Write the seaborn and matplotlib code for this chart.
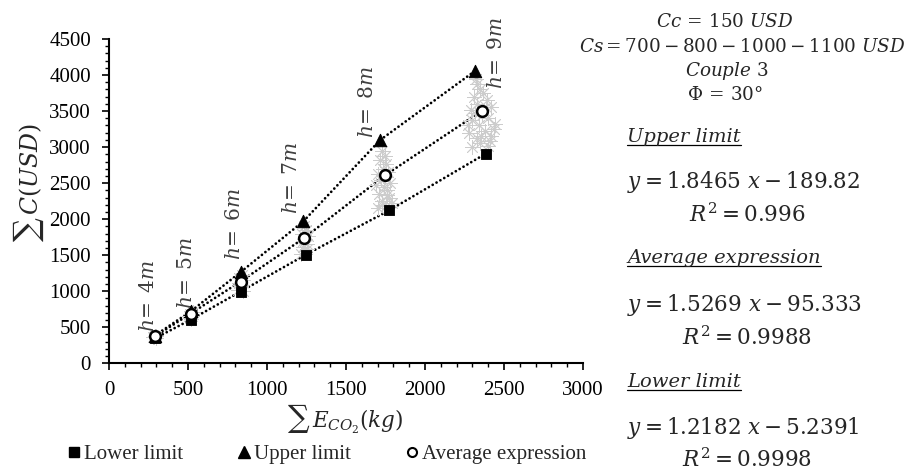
import numpy as np
import pandas as pd
import matplotlib
matplotlib.use("Agg")
import matplotlib.pyplot as plt
from matplotlib.lines import Line2D
import seaborn as sns

# ---------------- data ----------------
heights = ["4", "5", "6", "7", "8", "9"]
lower_x = [290, 517, 833, 1245, 1774, 2386]
lower_y = [345, 605, 996, 1506, 2123, 2911]
upper_x = [290, 517, 833, 1230, 1715, 2316]
upper_y = [385, 720, 1265, 1970, 3096, 4056]
avg_x = [290, 517, 833, 1235, 1747, 2358]
avg_y = [372, 690, 1135, 1739, 2609, 3500]

cloud_x = [285, 295, 290, 300, 280,
           510, 525, 515, 530, 505, 520,
           815, 835, 825, 845, 820, 840, 830, 850,
           1215, 1240, 1225, 1255, 1230, 1260, 1220, 1245, 1235, 1250,
           1700, 1750, 1730, 1770, 1710, 1760, 1740, 1780, 1720, 1765, 1735, 1755, 1715, 1745, 1730, 1790, 1690,
           1725, 1760, 1745, 1705,
           2300, 2350, 2400, 2330, 2420, 2280, 2380, 2340, 2440, 2300, 2400, 2360, 2290, 2420, 2330, 2390,
           2310, 2370, 2350, 2320, 2330, 2410, 2270, 2355, 2385, 2315, 2435]
cloud_y = [360, 375, 385, 355, 370,
           630, 660, 690, 705, 650, 620,
           1020, 1060, 1110, 1150, 1190, 1230, 1080, 1010,
           1520, 1560, 1610, 1650, 1700, 1760, 1800, 1850, 1900, 1580,
           2150, 2180, 2250, 2300, 2350, 2400, 2450, 2500, 2550, 2650, 2700, 2760, 2820, 2880, 2950, 2220, 2480,
           2200, 2330, 2580, 2620,
           3000, 3050, 3020, 3120, 3150, 3200, 3230, 3300, 3320, 3380, 3400, 3450, 3520, 3550, 3600, 3650,
           3700, 3750, 3800, 3950, 3880, 3080, 3300, 3150, 3560, 3470, 3250]

x_ticks = [0, 500, 1000, 1500, 2000, 2500, 3000]
y_ticks = [0, 500, 1000, 1500, 2000, 2500, 3000, 3500, 4000, 4500]

# ---------------- style ----------------
sns.set_theme(style="white")
plt.rcParams["font.family"] = ["Liberation Serif", "DejaVu Serif"]
plt.rcParams["mathtext.fontset"] = "dejavuserif"

W, H = 908, 472
fig = plt.figure(figsize=(W / 100, H / 100), dpi=100)
ax_l, ax_r, ax_b, ax_t = 109, 583, 363.3, 39
ax = fig.add_axes([ax_l / W, 1 - ax_b / H, (ax_r - ax_l) / W, (ax_b - ax_t) / H])

def px(x, y):
    return x / W, 1 - y / H

lower_df = pd.DataFrame({"x": lower_x, "y": lower_y})
upper_df = pd.DataFrame({"x": upper_x, "y": upper_y})
avg_df = pd.DataFrame({"x": avg_x, "y": avg_y})
cloud_df = pd.DataFrame({"x": cloud_x, "y": cloud_y})

dot = (0, (0.01, 1.6))
for df in (lower_df, upper_df, avg_df):
    sns.lineplot(data=df, x="x", y="y", sort=False, ax=ax, color="black",
                 linewidth=2.0, linestyle=dot, zorder=2)
for ln in ax.lines:
    ln.set_dash_capstyle("round")

sns.scatterplot(data=cloud_df, x="x", y="y", ax=ax, marker=(8, 2, 0), s=100,
                color="#cccccc", linewidth=0.6, edgecolor="#cccccc", zorder=3, legend=False)

sns.scatterplot(data=lower_df, x="x", y="y", ax=ax, marker="s", s=60,
                color="black", edgecolor="black", zorder=5, legend=False)
sns.scatterplot(data=upper_df, x="x", y="y", ax=ax, marker="^", s=80,
                color="black", edgecolor="black", zorder=5, legend=False)
sns.scatterplot(data=avg_df, x="x", y="y", ax=ax, marker="o", s=60,
                facecolor="white", edgecolor="black", linewidth=1.8, zorder=6, legend=False)

# height labels
label_offsets = [(-5, 4), (-3, 2), (-5, 12), (-11, 7), (-11, 2), (23, -18)]
for h, xu, yu, (dx, dy) in zip(heights, upper_x, upper_y, label_offsets):
    ax.annotate(r"$h\!=\;" + h + r"m$", xy=(xu, yu), xytext=(dx, dy),
                textcoords="offset pixels", rotation=90, ha="center", va="bottom",
                fontsize=14.5, color="#404040")

ax.set_xlim(0, 3000)
ax.set_ylim(0, 4500)
ax.set_xticks(x_ticks)
ax.set_yticks(y_ticks)
ax.set_xticks(np.arange(0, 3001, 100), minor=True)
ax.set_yticks(np.arange(0, 4501, 100), minor=True)
ax.set_xlabel("")
ax.set_ylabel("")
ax.tick_params(axis="both", which="major", direction="out", length=5, width=1.2,
               labelsize=15, color="black", labelcolor="black", bottom=True, left=True)
ax.tick_params(axis="x", which="major", pad=8)
ax.tick_params(axis="y", which="major", pad=8)
ax.tick_params(axis="both", which="minor", direction="out", length=3, width=1.0,
               color="black", bottom=True, left=True)
for side in ("top", "right"):
    ax.spines[side].set_visible(False)
for side in ("left", "bottom"):
    ax.spines[side].set_color("black")
    ax.spines[side].set_linewidth(1.5)

# axis labels
fig.text(*px(345, 419), r"$\sum\,E_{CO_2}(kg)$", ha="center", va="center", fontsize=15.5)
fig.text(*px(29, 182), r"$\sum\,C(USD)$", ha="center", va="center", fontsize=17, rotation=90)

# legend
handles = [
    Line2D([], [], marker="s", color="black", linestyle="none", markersize=7),
    Line2D([], [], marker="^", color="black", linestyle="none", markersize=8),
    Line2D([], [], marker="o", markerfacecolor="white", markeredgecolor="black",
           markeredgewidth=1.5, linestyle="none", markersize=6.5),
]
fig.legend(handles, ["Lower limit", "Upper limit", "Average expression"],
           loc="center", bbox_to_anchor=px(327, 454), ncol=3, frameon=False,
           fontsize=15, handlelength=0.6, handletextpad=0.2, columnspacing=2.6)

# right-hand annotations
fs = 13.2
fig.text(*px(725, 22), r"$Cc\,=\,150\ USD$", ha="center", va="center", fontsize=fs)
fig.text(*px(742, 47), r"$Cs=700-800-1000-1100\ USD$", ha="center", va="center", fontsize=fs)
fig.text(*px(727, 71), r"$Couple\ 3$", ha="center", va="center", fontsize=fs)
fig.text(*px(725, 95), r"$\Phi\,=\,30\degree$", ha="center", va="center", fontsize=fs)

headings = [("Upper limit", 137), ("Average expression", 258), ("Lower limit", 382)]
eqs = [(r"$y=1.8465\ x-189.82$", 182, r"$R^2=0.996$", 215),
       (r"$y=1.5269\ x-95.333$", 305, r"$R^2=0.9988$", 338),
       (r"$y=1.2182\ x-5.2391$", 428, r"$R^2=0.9998$", 460)]
head_texts = []
for (txt, yy) in headings:
    t = fig.text(*px(627, yy), txt, ha="left", va="center", fontsize=14,
                 family="DejaVu Serif", style="italic")
    head_texts.append(t)
for (e, ye, r, yr) in eqs:
    fig.text(*px(627, ye), e, ha="left", va="center", fontsize=15.5)
    fig.text(*px(747, yr), r, ha="center", va="center", fontsize=15.5)

fig.canvas.draw()
renderer = fig.canvas.get_renderer()
for t in head_texts:
    bb = t.get_window_extent(renderer)
    x0, x1 = bb.x0 / W, bb.x1 / W
    yb = (bb.y0 + 1.5) / H
    fig.add_artist(Line2D([x0, x1], [yb, yb], color="black", linewidth=0.9))

fig.savefig("out.png", dpi=100)
